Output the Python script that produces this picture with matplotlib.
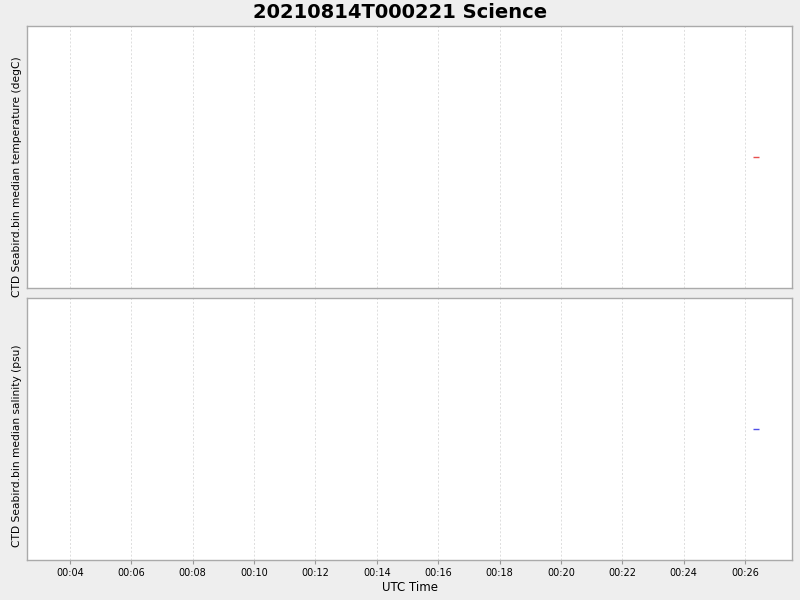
import matplotlib
matplotlib.use("Agg")
import matplotlib.pyplot as plt
import matplotlib.dates as mdates
import datetime as dt

title = "20210814T000221 Science"
times = [dt.datetime(2021, 8, 14, 0, 26, 21)]
temperature = [12.5]
salinity = [33.5]
x_start = dt.datetime(2021, 8, 14, 0, 2, 36)
x_end = dt.datetime(2021, 8, 14, 0, 27, 32)

fig = plt.figure(figsize=(8, 6), dpi=100, facecolor="#eeeeee")
ax1 = fig.add_axes([0.03375, 0.52, 0.95625, 0.4367])
ax2 = fig.add_axes([0.03375, 0.0667, 0.95625, 0.4358])

series = [(ax1, temperature, "#e8504f", "CTD Seabird.bin median temperature (degC)", 1 - 177 / 600),
          (ax2, salinity, "#5050e8", "CTD Seabird.bin median salinity (psu)", 1 - 446 / 600)]
for ax, vals, col, lab, ly in series:
    ax.set_facecolor("white")
    ax.plot(times, vals, linestyle="none", marker="_", markersize=4,
            markeredgewidth=1.0, color=col)
    ax.set_xlim(x_start, x_end)
    ax.set_ylim(vals[0] - 1, vals[0] + 1)
    ax.set_yticks([])
    ax.set_ylabel(lab, fontsize=7.7)
    ax.yaxis.set_label_coords(17 / 800, ly, transform=fig.transFigure)
    ax.yaxis.label.set_va("center")
    ax.xaxis.set_major_locator(mdates.MinuteLocator(byminute=range(4, 27, 2)))
    ax.xaxis.set_major_formatter(mdates.DateFormatter("%H:%M"))
    ax.grid(axis="x", color="#dddddd", linestyle=(0, (2, 2)), linewidth=0.7)
    for s in ax.spines.values():
        s.set_color("#aaaaaa")
        s.set_linewidth(1.0)
    ax.tick_params(axis="x", labelsize=7, length=3, color="#999999", pad=3)

ax1.tick_params(axis="x", labelbottom=False, length=0)
ax2.set_xlabel("UTC Time", fontsize=8.5, labelpad=2)
fig.text(0.5, 0.98, title, ha="center", va="center", fontsize=14, fontweight="bold")

fig.savefig("out.png", dpi=100, facecolor=fig.get_facecolor())
